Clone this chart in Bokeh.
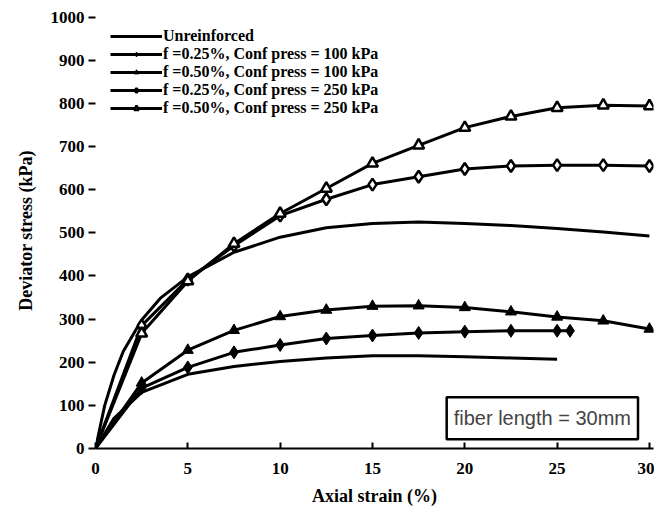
from bokeh.plotting import figure
from bokeh.models import Range1d, Legend, LegendItem, Label, FixedTicker
from bokeh.embed import file_html
from bokeh.resources import INLINE

# ---- data ----
strain_unr_100 = [0, 1, 2.5, 5, 7.5, 10, 12.5, 15, 17.5, 20, 22.5, 25]
stress_unr_100 = [0, 70, 130, 172, 190, 202, 210, 215, 215, 213, 210, 207]

strain_unr_250 = [0, 0.5, 1, 1.5, 2.5, 3.5, 5, 7.5, 10, 12.5, 15, 17.5, 20, 22.5, 25, 27.5, 30]
stress_unr_250 = [0, 100, 170, 225, 298, 348, 398, 455, 490, 512, 522, 525, 522, 517, 510, 502, 493]

strain_025_100 = [0, 2.5, 5, 7.5, 10, 12.5, 15, 17.5, 20, 22.5, 25, 25.7]
stress_025_100 = [0, 140, 188, 223, 240, 255, 262, 268, 271, 273, 273, 273]

strain_050_100 = [0, 2.5, 5, 7.5, 10, 12.5, 15, 17.5, 20, 22.5, 25, 27.5, 30]
stress_050_100 = [0, 152, 228, 274, 306, 321, 330, 331, 327, 317, 305, 296, 277]

strain_025_250 = [0, 2.5, 5, 7.5, 10, 12.5, 15, 17.5, 20, 22.5, 25, 27.5, 30]
stress_025_250 = [0, 285, 392, 470, 540, 578, 612, 630, 648, 655, 657, 657, 655]

strain_050_250 = [0, 2.5, 5, 7.5, 10, 12.5, 15, 17.5, 20, 22.5, 25, 27.5, 30]
stress_050_250 = [0, 267, 388, 475, 545, 603, 661, 703, 744, 770, 790, 796, 794]

x_ticks = [0, 5, 10, 15, 20, 25, 30]
y_ticks = [0, 100, 200, 300, 400, 500, 600, 700, 800, 900, 1000]

legend_labels = [
    "Unreinforced",
    "f =0.25%, Conf press = 100 kPa",
    "f =0.50%, Conf press = 100 kPa",
    "f =0.25%, Conf press = 250 kPa",
    "f =0.50%, Conf press = 250 kPa",
]
note_text = "fiber length = 30mm"

SERIF = "Liberation Serif"

p = figure(width=654, height=510, output_backend="svg", toolbar_location=None,
           x_range=Range1d(0, 30.22), y_range=Range1d(0, 1011),
           min_border_left=95, min_border_right=1, min_border_top=12,
           min_border_bottom=62)
p.outline_line_color = None
p.xgrid.visible = False
p.ygrid.visible = False
p.background_fill_color = "white"

lw = 3
r_unr100 = p.line(strain_unr_100, stress_unr_100, line_color="black", line_width=lw)
r_unr250 = p.line(strain_unr_250, stress_unr_250, line_color="black", line_width=lw)

r1l = p.line(strain_025_100, stress_025_100, line_color="black", line_width=lw)
r1m = p.scatter(strain_025_100[1:], stress_025_100[1:], marker="diamond", size=13,
                fill_color="black", line_color="black")
r2l = p.line(strain_050_100, stress_050_100, line_color="black", line_width=lw)
r2m = p.scatter(strain_050_100[1:], stress_050_100[1:], marker="triangle", size=11,
                fill_color="black", line_color="black")
r3l = p.line(strain_025_250, stress_025_250, line_color="black", line_width=lw)
r3m = p.scatter(strain_025_250[1:], stress_025_250[1:], marker="diamond", size=12,
                fill_color="white", line_color="black", line_width=2.5)
r4l = p.line(strain_050_250, stress_050_250, line_color="black", line_width=lw)
r4m = p.scatter(strain_050_250[1:], stress_050_250[1:], marker="triangle", size=11,
                fill_color="white", line_color="black", line_width=2.5)

legend = Legend(items=[
    LegendItem(label=legend_labels[0], renderers=[r_unr100]),
    LegendItem(label=legend_labels[1], renderers=[r1l, r1m]),
    LegendItem(label=legend_labels[2], renderers=[r2l, r2m]),
    LegendItem(label=legend_labels[3], renderers=[r3l, r3m]),
    LegendItem(label=legend_labels[4], renderers=[r4l, r4m]),
], location="top_left")
legend.background_fill_alpha = 0
legend.border_line_color = None
legend.label_text_font = SERIF
legend.label_text_font_style = "bold"
legend.label_text_font_size = "16px"
legend.label_text_color = "black"
legend.label_text_line_height = 0.75
legend.label_height = 12
legend.glyph_height = 12
legend.glyph_width = 52
legend.spacing = 0
legend.padding = 0
legend.margin = 15
legend.label_standoff = 1
p.add_layout(legend)

# x axis
xa = p.xaxis[0]
xa.ticker = FixedTicker(ticks=x_ticks)
xa.axis_line_width = 2
xa.major_tick_in = 6
xa.major_tick_out = 0
xa.major_tick_line_width = 2
xa.minor_tick_line_color = None
xa.major_label_text_font = SERIF
xa.major_label_text_font_style = "bold"
xa.major_label_text_font_size = "17px"
xa.major_label_text_color = "black"
xa.major_label_standoff = 14
xa.axis_label = "Axial strain (%)"
xa.axis_label_text_font = SERIF
xa.axis_label_text_font_style = "bold"
xa.axis_label_text_font_size = "18px"
xa.axis_label_text_color = "black"
xa.axis_label_standoff = 9

# y axis
ya = p.yaxis[0]
ya.ticker = FixedTicker(ticks=y_ticks)
ya.axis_line_color = None
ya.major_tick_in = 0
ya.major_tick_out = 7
ya.major_tick_line_width = 2
ya.minor_tick_line_color = None
ya.major_label_text_font = SERIF
ya.major_label_text_font_style = "bold"
ya.major_label_text_font_size = "17px"
ya.major_label_text_color = "black"
ya.major_label_standoff = 4
ya.axis_label = "Deviator stress (kPa)"
ya.axis_label_text_font = SERIF
ya.axis_label_text_font_style = "bold"
ya.axis_label_text_font_size = "18px"
ya.axis_label_text_color = "black"
ya.axis_label_standoff = 12

note = Label(x=24.2, y=70, text=note_text, text_align="center", text_baseline="middle",
             text_font="Liberation Sans", text_font_size="20px",
             border_line_color="black", border_line_width=2.5,
             background_fill_color="white",
             padding=dict(left=7, right=7, top=10, bottom=10))
p.add_layout(note)

open("out.html", "w").write(file_html(p, INLINE))
